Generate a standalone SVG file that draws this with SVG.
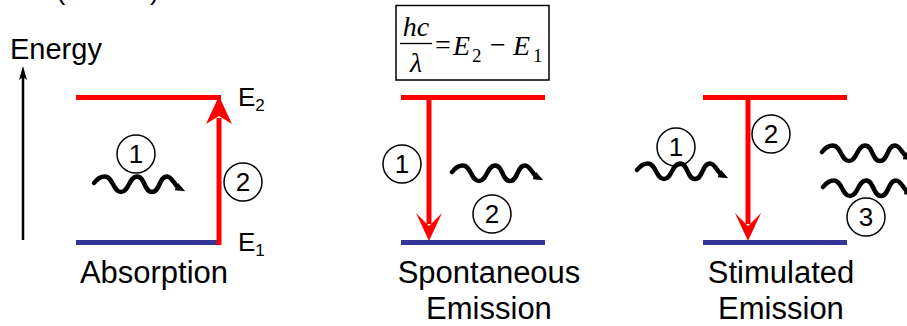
<svg xmlns="http://www.w3.org/2000/svg" width="907" height="326" viewBox="0 0 907 326">
<style>
.t{font-family:"Liberation Sans",Arial,sans-serif;fill:#000}
.title{font-size:31px;text-anchor:middle}
.num{font-size:26px;text-anchor:middle}
.lbl{font-size:26px}
.sub{font-size:17px}
.m{font-family:"Liberation Serif","Times New Roman",serif;font-size:28px;fill:#000}
.mi{font-style:italic}
.ms{font-size:19px}
.up{stroke:#ff0000;stroke-width:5;fill:none}
.low{stroke:#333399;stroke-width:5;fill:none}
.circ{fill:none;stroke:#000;stroke-width:1.5}
.wave{fill:none;stroke:#000;stroke-width:4.5;stroke-linecap:round;marker-end:url(#wh)}
.rh{fill:#ff0000}
</style>
<defs>
<marker id="wh" viewBox="0 0 10 8" markerWidth="10" markerHeight="8" refX="3" refY="4" orient="auto" markerUnits="userSpaceOnUse">
<path d="M0,0 L10,4 L0,8 z" fill="#000"/>
</marker>
<path id="wv" d="M0,0 C3,-4 7,-6.5 11,-6.5 C19,-6.5 19,9 27,9 C35,9 35,-6.5 43,-6.5 C51,-6.5 50,9 58,9 C66,9 65,-6.5 73,-6.5 C78,-6.5 81,3 85,5"/>
</defs>

<text class="t" x="56" y="-1" font-size="28">(</text>
<text class="t" x="150" y="-1" font-size="28">)</text>

<g id="energy-axis">
<line x1="23" y1="240" x2="23" y2="76" stroke="#000" stroke-width="2.5"/>
<polygon points="23,66 27,80 23,77 19,80" fill="#000"/>
<text class="t" x="10" y="59" font-size="29">Energy</text>
</g>

<g id="absorption">
<g id="abs-E2"><line class="up" x1="76" y1="97.5" x2="221" y2="97.5"/>
<text class="t lbl" x="238" y="106">E<tspan class="sub" dy="5">2</tspan></text></g>
<g id="abs-E1"><line class="low" x1="76" y1="242.5" x2="219" y2="242.5"/>
<text class="t lbl" x="238" y="251">E<tspan class="sub" dy="5">1</tspan></text></g>
<g id="abs-photon"><use href="#wv" class="wave" x="94" y="183"/>
<circle class="circ" cx="136" cy="154" r="19"/><text class="t num" x="136" y="163">1</text></g>
<g id="abs-step2"><circle class="circ" cx="243" cy="182" r="19"/><text class="t num" x="243" y="191">2</text></g>
<text class="t title" x="154" y="283">Absorption</text>
</g>

<g id="spontaneous">
<g id="formula">
<rect x="396" y="5.5" width="153" height="74.5" fill="#fff" stroke="#000" stroke-width="1.5"/>
<text class="m mi" x="416" y="36" text-anchor="middle" font-size="29">hc</text>
<line x1="400" y1="43.5" x2="432" y2="43.5" stroke="#000" stroke-width="1.3"/>
<text class="m mi" x="416" y="72" text-anchor="middle">λ</text>
<text class="m" x="435" y="54">=</text>
<text class="m mi" x="453" y="55" font-size="30">E</text>
<text class="m ms" x="472" y="62">2</text>
<text class="m" x="490" y="54">−</text>
<text class="m mi" x="513" y="55" font-size="30">E</text>
<text class="m ms" x="533" y="62">1</text>
</g>
<g id="sp-E2"><line class="up" x1="401" y1="97.5" x2="545" y2="97.5"/></g>
<g id="sp-E1"><line class="low" x1="401" y1="242.5" x2="545" y2="242.5"/></g>
<g id="sp-step1"><circle class="circ" cx="402" cy="164" r="19"/><text class="t num" x="402" y="173">1</text></g>
<g id="sp-photon"><use href="#wv" class="wave" x="452" y="172"/>
<circle class="circ" cx="492" cy="214" r="19"/><text class="t num" x="492" y="223">2</text></g>
<text class="t title" x="489" y="283">Spontaneous</text>
<text class="t title" x="489" y="319">Emission</text>
</g>

<g id="stimulated">
<g id="st-E2"><line class="up" x1="703" y1="97.5" x2="847" y2="97.5"/></g>
<g id="st-E1"><line class="low" x1="703" y1="242.5" x2="847" y2="242.5"/></g>
<g id="st-photon-in"><use href="#wv" class="wave" x="637" y="170"/>
<circle class="circ" cx="676" cy="147" r="19"/><text class="t num" x="676" y="156">1</text></g>
<g id="st-step2"><circle class="circ" cx="771" cy="134" r="19"/><text class="t num" x="771" y="143">2</text></g>
<g id="st-photons-out"><use href="#wv" class="wave" x="822" y="152"/>
<use href="#wv" class="wave" x="823" y="187"/>
<circle class="circ" cx="866" cy="217" r="19"/><text class="t num" x="866" y="226">3</text></g>
<text class="t title" x="781" y="283">Stimulated</text>
<text class="t title" x="781" y="319">Emission</text>
</g>

<g id="connectors">
<line class="up" x1="219" y1="245" x2="219" y2="118"/>
<polygon class="rh" points="219,96 232,124 219,116 206,124"/>
<line class="up" x1="429" y1="97" x2="429" y2="224"/>
<polygon class="rh" points="429,241 442,213 429,226 416,213"/>
<line class="up" x1="748" y1="97" x2="748" y2="224"/>
<polygon class="rh" points="748,241 761,213 748,226 735,213"/>
</g>
</svg>
